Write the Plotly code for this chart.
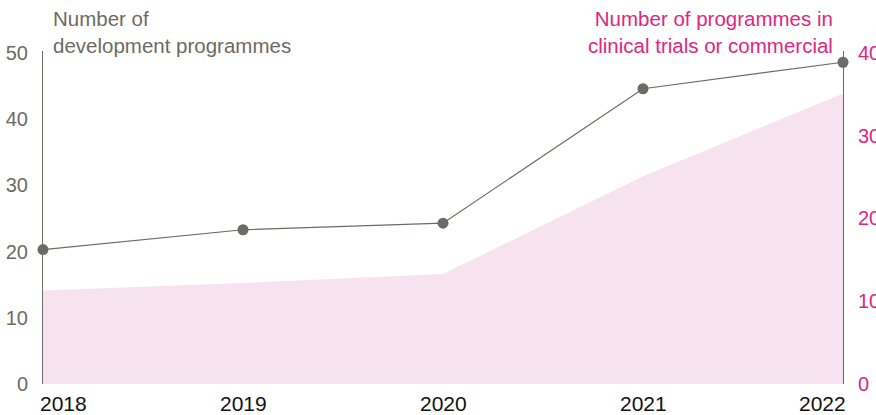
import plotly.graph_objects as go

years = [2018, 2019, 2020, 2021, 2022]
year_labels = ["2018", "2019", "2020", "2021", "2022"]
development_programmes = [20.3, 23.3, 24.3, 44.6, 48.6]
clinical_or_commercial = [11.3, 12.2, 13.3, 25.1, 35.1]
left_ticks = [0, 10, 20, 30, 40, 50]
right_ticks = [0, 10, 20, 30, 40]

GREY = "#6e6a65"
PINK = "#e0267f"
FILL = "#f7e3ef"
FONT = "Liberation Sans, Arial, sans-serif"

fig = go.Figure()
fig.add_trace(go.Scatter(
    x=years, y=clinical_or_commercial, yaxis="y2", mode="lines",
    fill="tozeroy", fillcolor=FILL, line=dict(width=0, color=FILL),
    hoverinfo="skip", showlegend=False))
fig.add_trace(go.Scatter(
    x=years, y=development_programmes, yaxis="y", mode="lines+markers",
    line=dict(color=GREY, width=1.2), marker=dict(color=GREY, size=11),
    cliponaxis=False, showlegend=False))

annotations = []
for i, (yr, lab) in enumerate(zip(years, year_labels)):
    anchor = "left" if i == 0 else ("right" if i == len(years) - 1 else "center")
    annotations.append(dict(x=yr, y=0, xref="x", yref="paper", text=lab,
                            showarrow=False, xanchor=anchor, yanchor="top",
                            yshift=-6, xshift=-5 if i == 0 else (5 if i == len(years) - 1 else 0),
                            font=dict(family=FONT, size=21, color="#111111")))
annotations.append(dict(x=0, y=1, xref="paper", yref="paper", xshift=8, yshift=46,
                        text="Number of<br>development programmes", showarrow=False,
                        xanchor="left", yanchor="top", align="left",
                        font=dict(family=FONT, size=20.5, color=GREY)))
annotations.append(dict(x=1, y=1, xref="paper", yref="paper", xshift=-8, yshift=46,
                        text="Number of programmes in<br>clinical trials or commercial", showarrow=False,
                        xanchor="right", yanchor="top", align="right",
                        font=dict(family=FONT, size=20.5, color=PINK)))

fig.update_layout(
    width=876, height=415,
    margin=dict(l=43, r=33, t=51, b=31, autoexpand=False),
    paper_bgcolor="white", plot_bgcolor="white",
    font=dict(family=FONT, size=20),
    xaxis=dict(range=[2018, 2022], showgrid=False, zeroline=False, automargin=False,
               showticklabels=False, ticks="", showline=False, fixedrange=True),
    yaxis=dict(range=[0, 50.3], tickvals=left_ticks, showgrid=False, zeroline=False,
               automargin=False,
               showline=True, linecolor=GREY, linewidth=1, ticks="",
               tickfont=dict(color=GREY, size=20, family=FONT), ticklabelstandoff=10),
    yaxis2=dict(range=[0, 40.24], tickvals=right_ticks, overlaying="y", side="right",
                automargin=False,
                showgrid=False, zeroline=False, showline=True, linecolor=PINK, linewidth=1,
                ticks="", tickfont=dict(color=PINK, size=20, family=FONT), ticklabelstandoff=10),
    annotations=annotations,
)

fig.write_html("out.html", config={"displayModeBar": False},
               post_script="document.body.style.margin='0';")
